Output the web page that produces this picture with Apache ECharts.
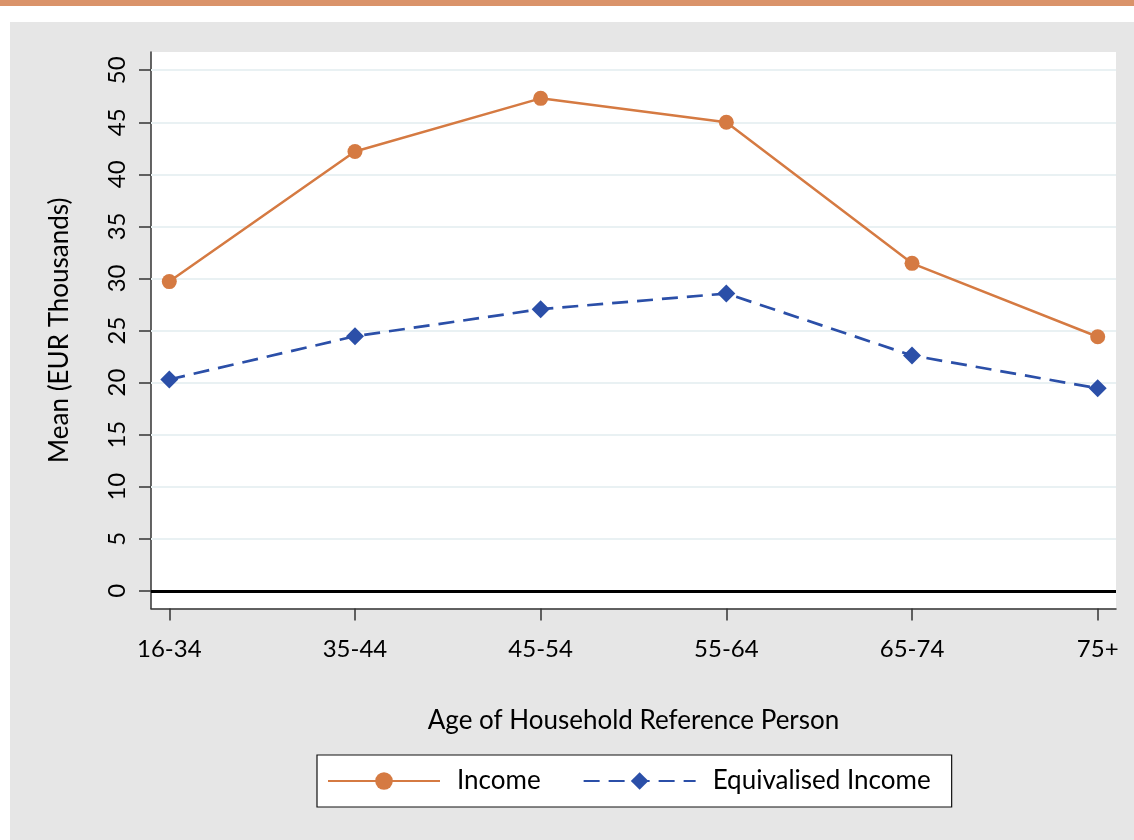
<!DOCTYPE html>
<html>
<head>
<meta charset="utf-8">
<script src="https://cdn.jsdelivr.net/npm/echarts@6/dist/echarts.min.js"></script>
<style>
html,body{margin:0;padding:0;background:#fff;}
#c{width:1134px;height:840px;}
</style>
</head>
<body>
<div id="c"></div>
<script>
const categories = ['16-34', '35-44', '45-54', '55-64', '65-74', '75+'];
const income = [29.7, 42.2, 47.3, 45.0, 31.45, 24.4];
const equivalised = [20.3, 24.45, 27.05, 28.55, 22.6, 19.45];
const yTicks = [0, 5, 10, 15, 20, 25, 30, 35, 40, 45, 50];

const FONT = 'Lato';
const chart = echarts.init(document.getElementById('c'), null, {renderer: 'canvas'});
const xIdx = categories.map((c, i) => i);

chart.setOption({
  backgroundColor: '#ffffff',
  animation: false,
  textStyle: {fontFamily: FONT},
  graphic: [
    {type: 'rect', shape: {x: 0, y: 0, width: 1134, height: 6}, style: {fill: '#DA936A'}, z: -10, silent: true},
    {type: 'rect', shape: {x: 10, y: 22, width: 1124, height: 818}, style: {fill: '#E6E6E6'}, z: -10, silent: true}
  ],
  grid: {left: 151, right: 18, top: 52, bottom: 231.5, show: true, backgroundColor: '#ffffff', borderWidth: 0, z: 0},
  xAxis: {
    type: 'value', min: -0.0985, max: 5.0985,
    name: 'Age of Household Reference Person', nameLocation: 'middle', nameGap: 99,
    nameTextStyle: {fontSize: 26, color: '#000', fontFamily: FONT},
    axisLine: {show: true, onZero: false, lineStyle: {color: '#333', width: 1.5}},
    axisTick: {show: true, length: 12, customValues: xIdx, lineStyle: {color: '#333', width: 1.5}},
    axisLabel: {customValues: xIdx, formatter: v => categories[Math.round(v)], fontSize: 24, color: '#000', margin: 29, fontFamily: FONT},
    splitLine: {show: false}
  },
  yAxis: {
    type: 'value', min: -1.7, max: 51.75,
    name: 'Mean (EUR Thousands)', nameLocation: 'middle', nameGap: 78,
    nameTextStyle: {fontSize: 26, color: '#000', fontFamily: FONT},
    axisLine: {show: true, onZero: false, lineStyle: {color: '#333', width: 1.5}},
    axisTick: {show: true, length: 12, customValues: yTicks, lineStyle: {color: '#333', width: 1.5}},
    axisLabel: {customValues: yTicks, rotate: 90, fontSize: 24, color: '#000', margin: 22, fontFamily: FONT},
    splitLine: {show: false}
  },
  legend: {
    left: 317, top: 755,
    padding: [13, 21, 13, 10],
    backgroundColor: '#fff', borderColor: '#111', borderWidth: 1.2,
    itemWidth: 112, itemHeight: 22, itemGap: 42,
    textStyle: {fontSize: 26, color: '#000', fontFamily: FONT, padding: [0, 0, 0, 12]},
    data: ['Income', 'Equivalised Income']
  },
  series: [
    {
      name: '_grid', type: 'line', data: [], silent: true,
      markLine: {
        silent: true, symbol: 'none', label: {show: false}, animation: false,
        lineStyle: {color: '#E9F1F3', width: 2, type: 'solid'},
        data: yTicks.filter(v => v !== 0).map(v => ({yAxis: v}))
      },
      z: 1
    },
    {
      name: '_zero', type: 'line', data: [], silent: true,
      markLine: {
        silent: true, symbol: 'none', label: {show: false}, animation: false,
        lineStyle: {color: '#000', width: 3, type: 'solid'},
        data: [{yAxis: 0}]
      },
      z: 2
    },
    {
      name: 'Income', type: 'line',
      data: income.map((v, i) => [i, v]),
      symbol: 'circle', symbolSize: 15,
      itemStyle: {color: '#D57A42'},
      lineStyle: {color: '#D57A42', width: 2.5},
      z: 5
    },
    {
      name: 'Equivalised Income', type: 'line',
      data: equivalised.map((v, i) => [i, v]),
      symbol: 'diamond', symbolSize: 18,
      itemStyle: {color: '#2B4FA8'},
      lineStyle: {color: '#2B4FA8', width: 2.7, type: [16, 9]},
      z: 5
    }
  ]
});
</script>
</body>
</html>
